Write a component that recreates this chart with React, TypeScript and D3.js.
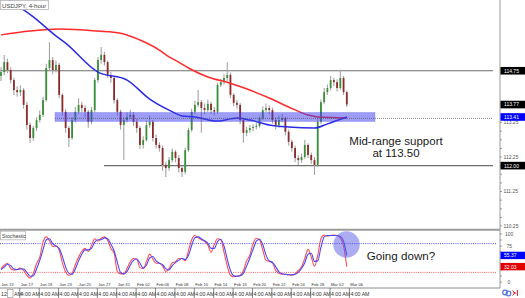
import React from "react";
import * as d3 from "d3";

// ---- data (USDJPY 4-hour, one candle ≈ 8 hours) ----
const firstOpen = 114.6;
const closes = [
  114.71, 115.0, 114.77, 114.48, 114.19, 114.13, 114.19, 113.76, 113.18, 112.8,
  113.09, 113.32, 113.47, 113.9, 114.83, 115.06, 114.77, 114.92, 114.05, 113.56,
  113.09, 112.8, 113.32, 113.56, 113.76, 113.67, 113.56, 113.27, 113.61, 114.48,
  115.06, 115.21, 115.0, 114.63, 114.54, 113.9, 113.56, 113.18, 113.32, 113.41,
  113.47, 113.27, 113.09, 112.6, 112.74, 113.18, 113.27, 112.8, 112.6, 112.51,
  112.02, 111.93, 112.16, 112.4, 112.22, 111.93, 111.82, 112.45, 113.03, 113.56,
  113.76, 113.84, 113.67, 113.61, 113.79, 113.61, 113.56, 114.34, 114.42, 114.54,
  114.63, 114.05, 113.82, 113.76, 113.32, 112.95, 113.03, 113.09, 113.12, 113.15,
  113.38, 113.61, 113.67, 113.61, 113.32, 113.18, 113.32, 113.38, 112.98, 112.69,
  112.51, 112.22, 112.16, 112.25, 112.6, 112.31, 112.16, 112.02, 113.27, 113.84,
  114.13, 114.25, 114.48, 114.42, 114.25, 114.54, 114.13, 113.77,
];
const highs = [
  114.85, 115.21, 115.1, 114.85, 114.55, 114.3, 114.32, 114.25, 113.85, 113.25,
  113.15, 113.4, 113.6, 114.0, 114.95, 115.58, 115.15, 115.05, 114.98, 114.1,
  113.65, 113.15, 113.4, 113.7, 113.95, 113.85, 113.75, 113.62, 113.7, 114.55,
  115.15, 115.44, 115.3, 115.05, 114.72, 114.6, 113.95, 113.62, 113.4, 113.55,
  113.62, 113.55, 113.35, 113.15, 112.85, 113.3, 113.45, 113.32, 112.9, 112.68,
  112.58, 112.1, 112.25, 112.5, 112.45, 112.3, 112.0, 112.52, 113.1, 113.65,
  113.88, 114.19, 113.9, 113.8, 113.92, 113.85, 113.7, 114.4, 114.52, 114.65,
  115.0, 114.7, 114.1, 113.9, 113.82, 113.38, 113.12, 113.18, 113.2, 113.25,
  113.45, 113.72, 113.8, 113.75, 113.68, 113.4, 113.45, 113.5, 113.42, 113.05,
  112.75, 112.58, 112.3, 112.35, 112.75, 112.65, 112.38, 112.25, 113.35, 113.92,
  114.25, 114.35, 114.6, 114.55, 114.5, 114.78, 114.6, 114.18,
];
const lows = [
  114.45, 114.62, 114.68, 114.38, 114.05, 114.0, 114.02, 113.65, 113.05, 112.66,
  112.72, 113.0, 113.25, 113.4, 113.85, 114.75, 114.65, 114.7, 113.95, 113.45,
  112.95, 112.54, 112.75, 113.25, 113.5, 113.55, 113.4, 113.1, 113.2, 113.55,
  114.4, 114.95, 114.9, 114.55, 114.4, 113.8, 113.45, 113.05, 112.16, 113.25,
  113.35, 113.15, 112.95, 112.48, 112.5, 112.7, 113.1, 112.7, 112.5, 112.4,
  111.85, 111.67, 111.85, 112.1, 112.1, 111.8, 111.67, 111.75, 112.4, 112.98,
  113.5, 113.7, 112.95, 113.5, 113.55, 113.5, 113.45, 113.5, 114.28, 114.35,
  114.45, 113.95, 113.72, 113.65, 113.2, 112.66, 112.85, 112.95, 113.0, 113.05,
  113.1, 113.32, 113.55, 113.5, 113.22, 113.05, 113.1, 113.25, 112.88, 112.58,
  112.4, 112.1, 112.02, 112.08, 112.2, 112.22, 112.05, 111.73, 111.95, 113.2,
  113.78, 114.05, 114.18, 114.3, 114.15, 114.2, 114.05, 113.7,
];

// moving averages (candle index, value)
const slowMaIdx = [0, 9, 18, 30, 37, 43, 49, 52, 55, 58, 64, 71, 77, 83, 89, 95, 98, 107];
const slowMaVal = [115.79, 115.9, 115.96, 115.9, 115.84, 115.64, 115.35, 115.15, 115.0, 114.83, 114.57, 114.39, 114.19, 113.96, 113.7, 113.47, 113.41, 113.38];
const fastMaIdx = [0, 10, 17, 20, 30, 39, 46, 52, 56, 60, 67, 73, 77, 83, 89, 97, 101, 107];
const fastMaVal = [116.95, 116.31, 115.76, 115.55, 114.71, 114.48, 113.93, 113.61, 113.44, 113.41, 113.29, 113.38, 113.32, 113.18, 113.12, 113.09, 113.21, 113.41];

// stochastic
const stochK = [
  28, 35, 39, 28, 25, 26, 29, 24, 14, 8,
  18, 38, 52, 83, 94, 86, 74, 75, 66, 40,
  21, 14, 18, 36, 52, 64, 70, 64, 76, 90,
  85, 91, 94, 87, 70, 60, 22, 17, 17, 28,
  42, 49, 48, 30, 28, 42, 58, 48, 39, 39,
  33, 22, 28, 40, 42, 49, 49, 44, 65, 88,
  97, 92, 88, 85, 77, 62, 78, 90, 88, 62,
  34, 14, 11, 12, 14, 23, 44, 56, 80, 91,
  88, 67, 45, 43, 40, 24, 18, 16, 16, 15,
  14, 17, 24, 32, 49, 68, 52, 33, 55, 90,
  98, 96, 97, 98, 97, 92, 75, 32.03,
];
const stochD = [
  26, 31, 37, 34, 27, 26, 27, 27, 20, 12,
  13, 27, 45, 67, 88, 90, 80, 75, 70, 53,
  31, 18, 16, 27, 44, 58, 67, 67, 70, 83,
  88, 88, 92, 90, 79, 65, 41, 20, 17, 22,
  35, 45, 48, 39, 29, 35, 50, 53, 44, 39,
  36, 28, 25, 34, 41, 45, 49, 47, 55, 76,
  92, 94, 90, 86, 81, 70, 70, 84, 89, 75,
  48, 24, 13, 12, 13, 18, 33, 50, 68, 85,
  89, 78, 56, 44, 41, 32, 21, 17, 16, 15,
  15, 16, 20, 28, 40, 58, 60, 43, 44, 72,
  94, 97, 97, 97, 97, 95, 85, 55.37,
];
const stochLevels = [80, 20];
const stochTicks = [100, 75, 0];

const dateLabels = [
  "Jan 13", "Jan 17", "Jan 19", "Jan 23", "Jan 25", "Jan 27", "Jan 31", "Feb 02", "Feb 06", "Feb 08",
  "Feb 10", "Feb 14", "Feb 16", "Feb 20", "Feb 22", "Feb 24", "Feb 28", "Mar 02", "Mar 06",
];
const barsPerLabel = 6;
const priceTicks = [113.25, 112.25, 111.25, 110.25];
const resistance = 114.75;
const floorLevel = 112.0;
const supportLow = 113.28;
const supportHigh = 113.54;
const supportLine = 113.37;
const lastClose = 113.77;
const fastMaLast = 113.41;

const FONT = "'Liberation Sans', Arial, sans-serif";

export default function App() {
  const x = d3.scaleLinear().domain([0, barsPerLabel]).range([1, 20.39]);
  const y = d3.scaleLinear().domain([112.25, 113.25]).range([157, 122.5]);
  const ys = d3.scaleLinear().domain([0, 100]).range([282, 234]);

  const opens = closes.map((c, i) => (i === 0 ? firstOpen : closes[i - 1]));

  const slowLine = d3
    .line<number>()
    .x((_, i) => x(slowMaIdx[i]))
    .y((v) => y(v))
    .curve(d3.curveMonotoneX);
  const fastLine = d3
    .line<number>()
    .x((_, i) => x(fastMaIdx[i]))
    .y((v) => y(v))
    .curve(d3.curveMonotoneX);
  const stochLine = d3
    .line<number>()
    .x((_, i) => x(i))
    .y((v) => ys(v))
    .curve(d3.curveMonotoneX);

  const minor = d3.range(110.25, 113.26, 0.25);
  const stochMinor = d3.range(0, 101, 12.5);

  const markBoxes = [
    { v: resistance, fill: "#000", label: resistance.toFixed(2) },
    { v: lastClose, fill: "#000", label: lastClose.toFixed(2) },
    { v: fastMaLast, fill: "#0000ff", label: fastMaLast.toFixed(2) },
    { v: floorLevel, fill: "#000", label: floorLevel.toFixed(2) },
  ];

  const lastD = stochD[stochD.length - 1];
  const lastK = stochK[stochK.length - 1];

  return (
    <svg
      width={525}
      height={298}
      style={{ position: "fixed", left: 0, top: 0, background: "#fff", fontFamily: FONT }}
    >
      <defs>
        <clipPath id="mainClip">
          <rect x={0} y={0} width={500} height={229} />
        </clipPath>
        <clipPath id="stochClip">
          <rect x={0} y={231} width={500} height={56} />
        </clipPath>
      </defs>
      <rect x={0} y={0} width={525} height={298} fill="#fff" />

      {/* main panel */}
      <g clipPath="url(#mainClip)">
        <line x1={0} x2={493} y1={y(resistance)} y2={y(resistance)} stroke="#6e6e6e" strokeWidth={1.1} />
        <line x1={104} x2={493} y1={y(floorLevel)} y2={y(floorLevel)} stroke="#6e6e6e" strokeWidth={1.1} />

        {closes.map((c, i) => {
          const o = opens[i];
          const up = c >= o;
          const top = y(Math.max(o, c));
          const bot = y(Math.min(o, c));
          return (
            <g key={i}>
              <line x1={x(i)} x2={x(i)} y1={y(highs[i])} y2={y(lows[i])} stroke="#a3a3a3" strokeWidth={1.1} />
              <rect
                x={x(i) - 0.9}
                y={top}
                width={1.8}
                height={Math.max(bot - top, 0.8)}
                fill={up ? "#3a8f3a" : "#8e2a2a"}
              />
            </g>
          );
        })}

        <path d={slowLine(slowMaVal) || ""} fill="none" stroke="#ff2a2a" strokeWidth={1.5} />
        <path d={fastLine(fastMaVal) || ""} fill="none" stroke="#2a2ae8" strokeWidth={1.5} />

        <rect
          x={55}
          y={y(supportHigh)}
          width={320}
          height={y(supportLow) - y(supportHigh)}
          fill="#3c3cf0"
          fillOpacity={0.5}
          stroke="#3c3cf0"
          strokeOpacity={0.3}
          strokeWidth={0.8}
        />
        <line
          x1={55}
          x2={493}
          y1={y(supportLine)}
          y2={y(supportLine)}
          stroke="#555"
          strokeWidth={0.7}
          strokeDasharray="1 1"
        />
      </g>

      <rect x={0.5} y={0.5} width={48} height={9} fill="#fff" stroke="#b5b5b5" strokeWidth={0.8} />
      <text x={2} y={7.6} fontSize={6.1} fill="#444">USDJPY, 4-hour</text>

      <text x={396} y={145} fontSize={11.5} fill="#1a1a1a" textAnchor="middle">Mid-range support</text>
      <text x={396} y={157} fontSize={11.5} fill="#1a1a1a" textAnchor="middle">at 113.50</text>

      <line x1={0} x2={500} y1={229.8} y2={229.8} stroke="#9c9c9c" strokeWidth={2} />

      <g clipPath="url(#stochClip)">
        {stochLevels.map((lv, i) => (
          <line
            key={lv}
            x1={0}
            x2={497}
            y1={ys(lv)}
            y2={ys(lv)}
            stroke={i === 0 ? "#3a3aff" : "#ff4a4a"}
            strokeWidth={0.9}
            strokeDasharray="1 1.2"
          />
        ))}
        <path d={stochLine(stochK) || ""} fill="none" stroke="#ff4d4d" strokeWidth={1.1} />
        <path d={stochLine(stochD) || ""} fill="none" stroke="#4848ff" strokeWidth={1.1} />
        <circle cx={346.5} cy={244.5} r={13.2} fill="#5a5ae8" fillOpacity={0.5} />
      </g>
      <rect x={0.5} y={231.2} width={25} height={8.6} fill="#fff" stroke="#b5b5b5" strokeWidth={0.8} />
      <text x={2} y={238.3} fontSize={5.2} fill="#444">Stochastic</text>
      <text x={401} y={260} fontSize={11.6} fill="#1a1a1a" textAnchor="middle">Going down?</text>

      {dateLabels.map((d, k) => (
        <text key={d} x={x(k * barsPerLabel) + 0.3} y={286.3} fontSize={4.1} fill="#333">
          {d}
        </text>
      ))}
      <line x1={0} x2={500} y1={288} y2={288} stroke="#8c8c8c" strokeWidth={1} />

      <text x={1} y={296} fontSize={5.2} fill="#333">12:</text>
      <rect x={7.5} y={289.5} width={5.5} height={8} fill="none" stroke="#888" strokeWidth={0.6} />
      <text x={14} y={296} fontSize={5.2} fill="#333">AM</text>
      {dateLabels.slice(1).map((d, k) => {
        const xx = x((k + 1) * barsPerLabel) - 0.6;
        return (
          <g key={"t" + d}>
            <line x1={xx} x2={xx} y1={288} y2={298} stroke="#555" strokeWidth={0.7} />
            <text x={xx + 1} y={296} fontSize={5.2} fill="#333">4:00 AM</text>
          </g>
        );
      })}

      <line x1={500} x2={500} y1={0} y2={288} stroke="#9a9a9a" strokeWidth={1} />
      {minor.map((m) => (
        <line key={"m" + m} x1={500} x2={502} y1={y(m)} y2={y(m)} stroke="#777" strokeWidth={0.7} />
      ))}
      {priceTicks.map((p) => (
        <text key={p} x={503.5} y={y(p) + 1.8} fontSize={5} fill="#555">
          {p.toFixed(2)}
        </text>
      ))}
      {markBoxes.map((b) => (
        <g key={b.label}>
          <rect x={500.5} y={y(b.v) - 3.8} width={24.5} height={7.6} fill={b.fill} />
          <text x={504} y={y(b.v) + 1.9} fontSize={5} fill="#fff">
            {b.label}
          </text>
        </g>
      ))}

      {stochMinor.map((m) => (
        <line key={"sm" + m} x1={500} x2={502} y1={ys(m)} y2={ys(m)} stroke="#777" strokeWidth={0.7} />
      ))}
      {stochTicks.map((t) => (
        <text key={"st" + t} x={t === 100 ? 505 : t === 0 ? 507.5 : 506.5} y={ys(t) + 1.8} fontSize={5} fill="#555">
          {t}
        </text>
      ))}
      <rect x={500.5} y={ys(lastD) - 3.7} width={24.5} height={7.4} fill="#0000ff" />
      <text x={504} y={ys(lastD) + 1.9} fontSize={5} fill="#fff">{lastD.toFixed(2)}</text>
      <rect x={500.5} y={ys(lastK) - 3.7} width={24.5} height={7.4} fill="#e00000" />
      <text x={504} y={ys(lastK) + 1.9} fontSize={5} fill="#fff">{lastK.toFixed(2)}</text>

      <circle cx={505} cy={292.5} r={2.3} fill="none" stroke="#5577dd" strokeWidth={1.2} />
      <circle cx={508.5} cy={293.5} r={2.3} fill="none" stroke="#5577dd" strokeWidth={1.2} />
      <path d="M512.5 290.5 L515 293 L512.5 295.5 M513 293 L516.5 293 M517.5 290 L517.5 296" stroke="#e03030" strokeWidth={1} fill="none" />
    </svg>
  );
}
